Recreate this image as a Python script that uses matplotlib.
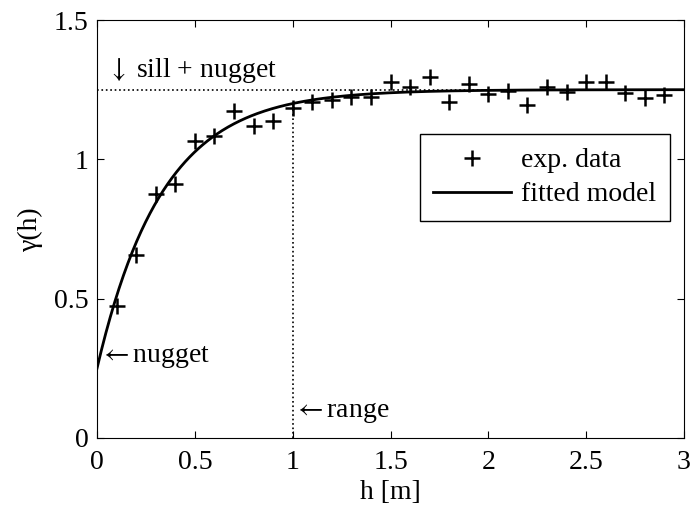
import matplotlib
matplotlib.use('Agg')
import matplotlib.pyplot as plt
import numpy as np

# experimental variogram
h_exp = [0.1, 0.2, 0.3, 0.4, 0.5, 0.6, 0.7, 0.8, 0.9, 1.0,
         1.1, 1.2, 1.3, 1.4, 1.5, 1.6, 1.7, 1.8, 1.9, 2.0,
         2.1, 2.2, 2.3, 2.4, 2.5, 2.6, 2.7, 2.8, 2.9]
g_exp = [0.475, 0.655, 0.874, 0.910, 1.066, 1.082, 1.174, 1.120, 1.136, 1.186,
         1.204, 1.213, 1.222, 1.222, 1.277, 1.258, 1.294, 1.206, 1.272, 1.236,
         1.244, 1.196, 1.258, 1.240, 1.279, 1.279, 1.237, 1.219, 1.230]

# fitted exponential model
nugget = 0.25
sill = 1.0
rng = 1.0

plt.rcParams['font.family'] = ['Liberation Serif', 'DejaVu Serif']
plt.rcParams['mathtext.fontset'] = 'stix'

fs = 20

fig = plt.figure(figsize=(6.9, 5.09), dpi=100)
ax = fig.add_axes([0.1406, 0.1395, 0.8507, 0.8212])

hh = np.linspace(0, 3, 400)
model = nugget + sill * (1 - np.exp(-3 * hh / rng))

ax.plot([0, 3], [nugget + sill, nugget + sill], 'k:', lw=1.2)
g_range = nugget + sill * (1 - np.exp(-3.0))
ax.plot([rng, rng], [0, g_range], 'k:', lw=1.2)

ax.plot(h_exp, g_exp, 'k+', ms=12, mew=1.8, label='exp. data')
ax.plot(hh, model, 'k-', lw=2, label='fitted model')

ax.text(0.05, 1.32, r'$\downarrow$ sill + nugget', fontsize=fs, va='center')
ax.text(0.01, 0.29, r'$\leftarrow$' + 'nugget', fontsize=fs, va='center')
ax.text(1.0, 0.09, r'$\leftarrow$' + 'range', fontsize=fs, va='center')

ax.set_xlim(0, 3)
ax.set_ylim(0, 1.5)
ax.set_xticks([0, 0.5, 1, 1.5, 2, 2.5, 3])
ax.set_xticklabels(['0', '0.5', '1', '1.5', '2', '2.5', '3'])
ax.set_yticks([0, 0.5, 1, 1.5])
ax.set_yticklabels(['0', '0.5', '1', '1.5'])
ax.tick_params(direction='in', top=True, right=True, labelsize=fs, length=5)
ax.tick_params(axis='x', pad=9)
ax.tick_params(axis='y', pad=6)
ax.set_xlabel('h [m]', fontsize=fs, labelpad=3)
ax.set_ylabel('\u03b3(h)', fontsize=fs, labelpad=8)

leg = ax.legend(loc='upper right', bbox_to_anchor=(0.976, 0.727), borderaxespad=0,
                fontsize=fs, fancybox=False, edgecolor='k', framealpha=1,
                handlelength=2.8, borderpad=0.5, labelspacing=0.3, handletextpad=0.35)
leg.get_frame().set_linewidth(1.0)

fig.savefig('out.png', dpi=100)
